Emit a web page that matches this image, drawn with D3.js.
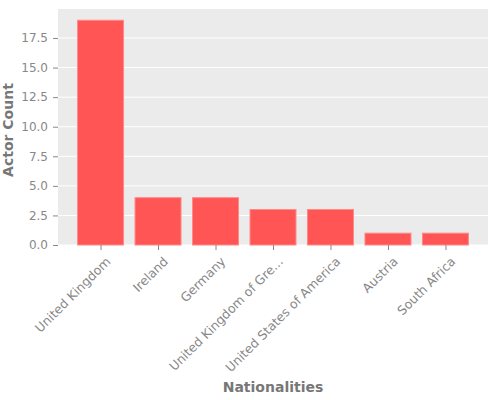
<!DOCTYPE html>
<html>
<head>
<meta charset="utf-8">
<script src="https://cdn.jsdelivr.net/npm/d3@7"></script>
<style>
  body { margin: 0; background: #fff; }
  svg text { font-family: "DejaVu Sans", sans-serif; }
</style>
</head>
<body>
<div id="chart"></div>
<script>
const nationalities = ["United Kingdom", "Ireland", "Germany", "United Kingdom of Gre...",
    "United States of America", "Austria", "South Africa"];
const actorCounts = [19, 4, 4, 3, 3, 1, 1];
const yTicks = [0, 2.5, 5, 7.5, 10, 12.5, 15, 17.5];

const width = 500, height = 400;
const margin = { top: 9, right: 12, bottom: 155, left: 58 };
const innerW = width - margin.left - margin.right;
const innerH = height - margin.top - margin.bottom;

const svg = d3.select("#chart").append("svg")
    .attr("width", width)
    .attr("height", height);

const g = svg.append("g")
    .attr("transform", `translate(${margin.left},${margin.top})`);

// matplotlib-like margins around bars
const n = nationalities.length;
const pad = 0.05 * (n - 1 + 0.8);
const x = d3.scaleLinear()
    .domain([-0.4 - pad, n - 1 + 0.4 + pad])
    .range([0, innerW]);
const y = d3.scaleLinear()
    .domain([0, d3.max(actorCounts) * 1.05])
    .range([innerH, 0]);

g.append("rect")
    .attr("width", innerW)
    .attr("height", innerH)
    .attr("fill", "#ebebeb");

g.selectAll("line.grid-y")
    .data(yTicks)
    .enter().append("line")
    .attr("class", "grid-y")
    .attr("x1", 0).attr("x2", innerW)
    .attr("y1", d => y(d)).attr("y2", d => y(d))
    .attr("stroke", "#fff")
    .attr("stroke-width", 1);

g.selectAll("rect.bar")
    .data(actorCounts)
    .enter().append("rect")
    .attr("class", "bar")
    .attr("x", (d, i) => x(i - 0.4))
    .attr("width", x(0.4) - x(-0.4))
    .attr("y", d => y(d))
    .attr("height", d => innerH - y(d))
    .attr("fill", "#ff5555")
    .attr("stroke", "#ff8a8a")
    .attr("stroke-width", 1);

const yAxis = g.append("g")
    .call(d3.axisLeft(y).tickValues(yTicks).tickFormat(d3.format(".1f")).tickSize(5).tickPadding(5));
yAxis.select(".domain").remove();
yAxis.selectAll("line").attr("stroke", "#888");
yAxis.selectAll("text").attr("fill", "#888").style("font-size", "12px");

const xAxis = g.append("g")
    .attr("transform", `translate(0,${innerH})`)
    .call(d3.axisBottom(x).tickValues(d3.range(n)).tickFormat(i => nationalities[i]).tickSize(5));
xAxis.select(".domain").remove();
xAxis.selectAll("line").attr("stroke", "#888");
xAxis.selectAll("text")
    .attr("fill", "#888")
    .style("font-size", "12.5px")
    .attr("text-anchor", "end")
    .attr("x", 0).attr("y", 0).attr("dy", "0.71em")
    .attr("transform", "translate(4,11) rotate(-45)");

svg.append("text")
    .attr("transform", `translate(8,${margin.top + innerH / 2 + 3}) rotate(-90)`)
    .attr("text-anchor", "middle")
    .attr("dy", "0.35em")
    .attr("fill", "#777")
    .style("font-size", "14px")
    .style("font-weight", "bold")
    .text("Actor Count");

svg.append("text")
    .attr("x", margin.left + innerW / 2)
    .attr("y", 392)
    .attr("text-anchor", "middle")
    .attr("fill", "#777")
    .style("font-size", "14px")
    .style("font-weight", "bold")
    .text("Nationalities");
</script>
</body>
</html>
